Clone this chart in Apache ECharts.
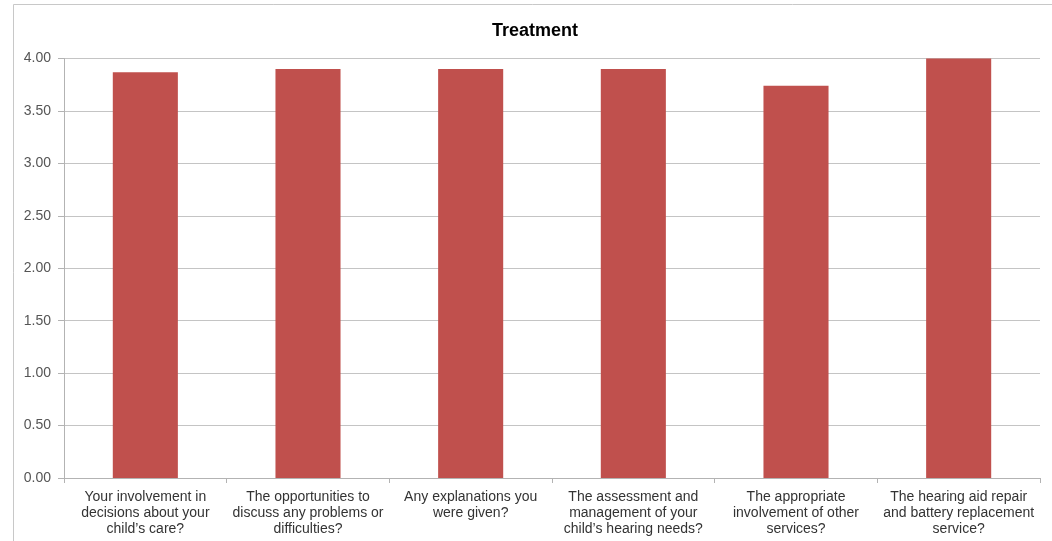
<!DOCTYPE html>
<html>
<head>
<meta charset="utf-8">
<script src="https://cdn.jsdelivr.net/npm/echarts@6/dist/echarts.min.js"></script>
<style>
  html, body { margin: 0; padding: 0; background: #fff; }
  #chart { width: 1052px; height: 541px; }
</style>
</head>
<body>
<div id="chart"></div>
<script>
const categories = [
  'Your involvement in\ndecisions about your\nchild\u2019s care?',
  'The opportunities to\ndiscuss any problems or\ndifficulties?',
  'Any explanations you\nwere given?',
  'The assessment and\nmanagement of your\nchild\u2019s hearing needs?',
  'The appropriate\ninvolvement of other\nservices?',
  'The hearing aid repair\nand battery replacement\nservice?'
]
const scores = [3.87, 3.90, 3.90, 3.90, 3.74, 4.00]
const chartTitle = 'Treatment'

const myChart = echarts.init(document.getElementById('chart'))

const option = {
  backgroundColor: '#fff',
  animation: false,
  textStyle: { fontFamily: 'Liberation Sans, Arial, sans-serif' },
  graphic: [
    {
      type: 'polyline',
      shape: { points: [[13.5, 541], [13.5, 4.5], [1052, 4.5]] },
      style: { stroke: '#c8c8c8', lineWidth: 1, fill: null },
      silent: true
    }
  ],
  title: {
    text: chartTitle,
    left: 530,
    top: 17,
    textAlign: 'center',
    textStyle: {
      color: '#000',
      fontSize: 18,
      fontWeight: 'bold',
      fontFamily: 'Liberation Sans, Arial, sans-serif'
    }
  },
  grid: {
    left: 64,
    right: 12,
    top: 58.5,
    bottom: 63,
    containLabel: false
  },
  xAxis: {
    type: 'category',
    data: categories,
    axisLine: { lineStyle: { color: '#b3b3b3', width: 1 } },
    axisTick: { show: true, length: 5, lineStyle: { color: '#b3b3b3' } },
    axisLabel: {
      color: '#333',
      fontSize: 14,
      lineHeight: 16,
      margin: 11,
      interval: 0,
      align: 'center'
    },
    splitLine: { show: false }
  },
  yAxis: {
    type: 'value',
    min: 0,
    max: 4,
    interval: 0.5,
    axisLine: { show: true, lineStyle: { color: '#b3b3b3', width: 1 } },
    axisTick: { show: true, length: 6, lineStyle: { color: '#b3b3b3' } },
    axisLabel: {
      color: '#555',
      fontSize: 14,
      margin: 13,
      formatter: v => v.toFixed(2)
    },
    splitLine: { lineStyle: { color: '#c4c4c4', width: 1 } }
  },
  series: [
    {
      type: 'bar',
      data: scores,
      barWidth: '40%',
      itemStyle: { color: '#c0504d' }
    }
  ]
}

myChart.setOption(option)
</script>
</body>
</html>
